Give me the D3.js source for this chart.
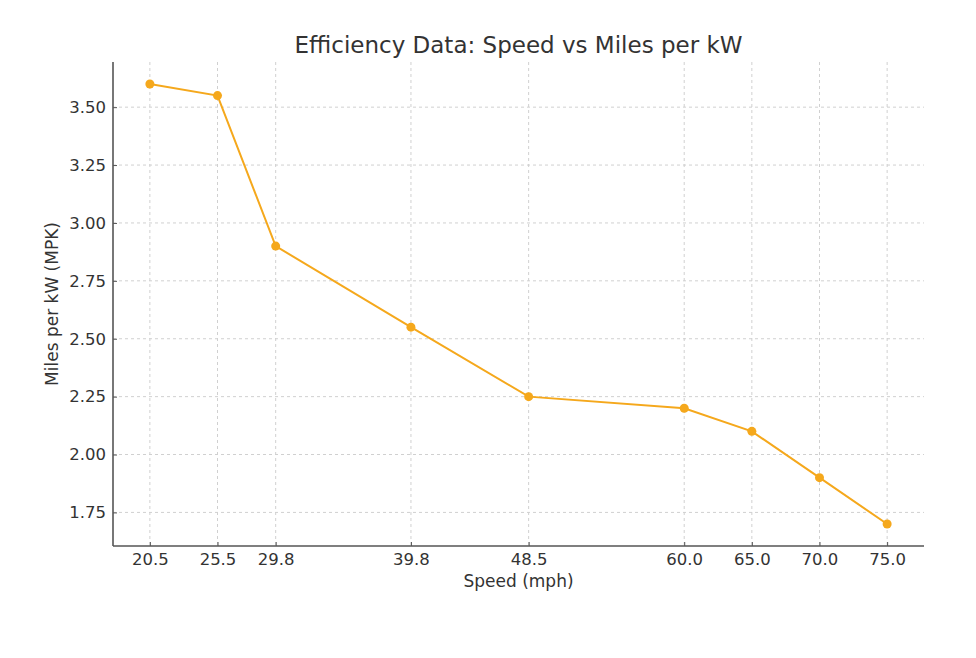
<!DOCTYPE html>
<html>
<head>
<meta charset="utf-8">
<script src="https://cdn.jsdelivr.net/npm/d3@7"></script>
<style>
  body { margin: 0; background: #fff; }
  svg text { font-family: "DejaVu Sans", sans-serif; fill: #333; }
</style>
</head>
<body>
<div id="chart"></div>
<script>
// data
const speeds = [20.5, 25.5, 29.8, 39.8, 48.5, 60.0, 65.0, 70.0, 75.0]
const mpk = [3.60, 3.55, 2.90, 2.55, 2.25, 2.20, 2.10, 1.90, 1.70]
const yTicks = [1.75, 2.00, 2.25, 2.50, 2.75, 3.00, 3.25, 3.50]

const w = 976
const h = 658
const mLeft = 113, mRight = 924, mTop = 62, mBottom = 546
const lineClr = "#f5a81c"

const svg = d3.select("#chart").append("svg")
    .attr("width", w)
    .attr("height", h)

// matplotlib style 5% padding
const xPad = (d3.max(speeds) - d3.min(speeds)) * 0.05
const yPad = (d3.max(mpk) - d3.min(mpk)) * 0.05
const x = d3.scaleLinear()
    .domain([d3.min(speeds) - xPad, d3.max(speeds) + xPad])
    .range([mLeft, mRight])
const y = d3.scaleLinear()
    .domain([d3.min(mpk) - yPad, d3.max(mpk) + yPad])
    .range([mBottom, mTop])

// grid
const grid = svg.append("g")
grid.selectAll(".vg").data(speeds).enter().append("line")
    .attr("x1", d => x(d)).attr("x2", d => x(d))
    .attr("y1", mTop).attr("y2", mBottom)
    .style("stroke", "#d0d0d0").style("stroke-width", 1)
    .style("stroke-dasharray", "3,3")
grid.selectAll(".hg").data(yTicks).enter().append("line")
    .attr("x1", mLeft).attr("x2", mRight)
    .attr("y1", d => y(d)).attr("y2", d => y(d))
    .style("stroke", "#d0d0d0").style("stroke-width", 1)
    .style("stroke-dasharray", "3,3")

// axes, ticks point inward
const xAxis = svg.append("g")
    .attr("transform", `translate(0,${mBottom})`)
    .call(d3.axisBottom(x).tickValues(speeds).tickFormat(d3.format(".1f")).tickSize(-4).tickPadding(7))
const yAxis = svg.append("g")
    .attr("transform", `translate(${mLeft},0)`)
    .call(d3.axisLeft(y).tickValues(yTicks).tickFormat(d3.format(".2f")).tickSize(-4).tickPadding(7))

;[xAxis, yAxis].forEach(ax => {
    ax.select(".domain").style("stroke", "#555").style("stroke-width", 1.6)
    ax.selectAll(".tick line").style("stroke", "#555")
    ax.selectAll(".tick text").style("font-size", "16.5px").style("fill", "#333")
})
xAxis.select(".domain").attr("d", `M${mLeft},0H${mRight}`)
yAxis.select(".domain").attr("d", `M0,${mTop}V${mBottom}`)

// line + markers
const line = d3.line()
    .x((d, i) => x(speeds[i]))
    .y(d => y(d))
svg.append("path")
    .datum(mpk)
    .attr("d", line)
    .style("fill", "none")
    .style("stroke", lineClr)
    .style("stroke-width", 2)
svg.selectAll(".pt").data(mpk).enter().append("circle")
    .attr("cx", (d, i) => x(speeds[i]))
    .attr("cy", d => y(d))
    .attr("r", 4.5)
    .style("fill", lineClr)

// text
svg.append("text")
    .attr("x", (mLeft + mRight) / 2).attr("y", 53)
    .attr("text-anchor", "middle")
    .style("font-size", "23px")
    .text("Efficiency Data: Speed vs Miles per kW")
svg.append("text")
    .attr("x", (mLeft + mRight) / 2).attr("y", 587)
    .attr("text-anchor", "middle")
    .style("font-size", "17px")
    .text("Speed (mph)")
svg.append("text")
    .attr("transform", `translate(58,${(mTop + mBottom) / 2}) rotate(-90)`)
    .attr("text-anchor", "middle")
    .style("font-size", "17px")
    .text("Miles per kW (MPK)")
</script>
</body>
</html>
